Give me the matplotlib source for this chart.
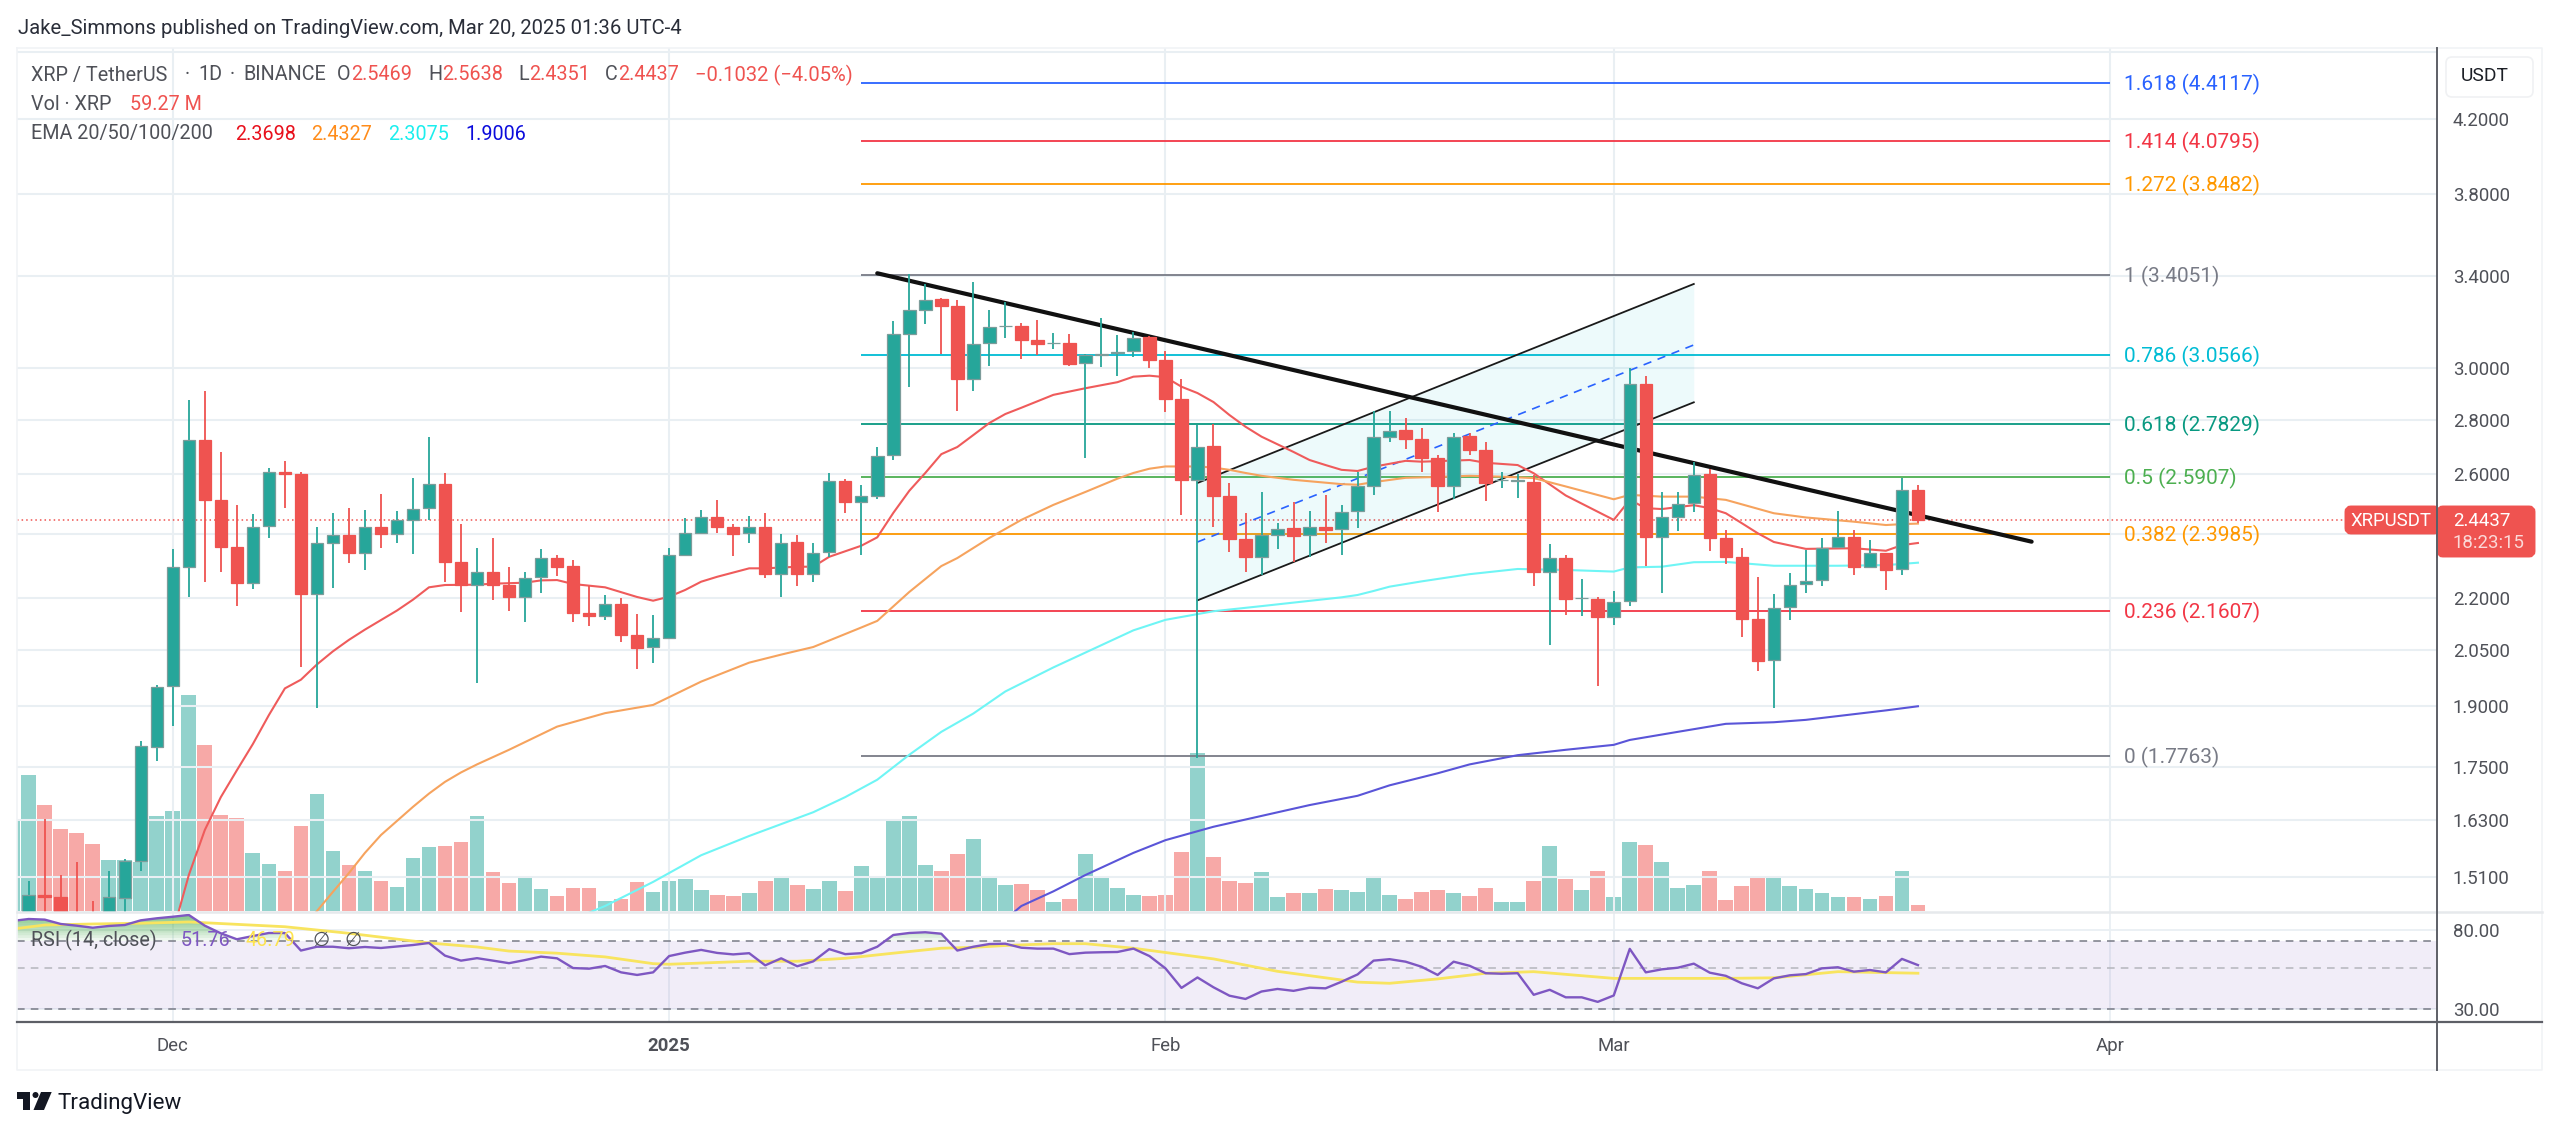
import numpy as np
import pandas as pd
import matplotlib
matplotlib.use("Agg")
import matplotlib.pyplot as plt
from matplotlib.patches import Polygon, Circle, FancyBboxPatch
from matplotlib.ticker import NullLocator

plt.rcParams['font.family'] = ['Roboto', 'DejaVu Sans']

# XRP/USDT daily bars, Nov 21 2024 .. Mar 20 2025
dates = pd.date_range("2024-11-21", periods=120)

opens = [1.36, 1.40, 1.473, 1.468, 1.40, 1.38, 1.36, 1.466, 1.541, 1.800,
         1.953, 2.295, 2.724, 2.510, 2.356, 2.245, 2.424, 2.610, 2.602, 2.212,
         2.369, 2.394, 2.339, 2.422, 2.400, 2.444, 2.483, 2.566, 2.309, 2.240,
         2.278, 2.239, 2.202, 2.263, 2.322, 2.296, 2.156, 2.147, 2.183, 2.094,
         2.058, 2.085, 2.331, 2.402, 2.455, 2.420, 2.401, 2.420, 2.272, 2.372,
         2.273, 2.341, 2.578, 2.506, 2.524, 2.668, 3.145, 3.245, 3.294, 3.264,
         2.959, 3.104, 3.177, 3.178, 3.118, 3.104, 3.107, 3.023, 3.057, 3.062,
         3.070, 3.131, 3.036, 2.878, 2.580, 2.700, 2.526, 2.381, 2.326, 2.397,
         2.417, 2.394, 2.422, 2.414, 2.474, 2.560, 2.736, 2.760, 2.729, 2.660,
         2.561, 2.738, 2.687, 2.580, 2.577, 2.575, 2.280, 2.321, 2.199, 2.198,
         2.145, 2.191, 2.939, 2.389, 2.456, 2.500, 2.601, 2.385, 2.325, 2.138,
         2.022, 2.172, 2.242, 2.254, 2.357, 2.390, 2.293, 2.339, 2.287, 2.5469]
highs = [1.40, 1.50, 1.631, 1.513, 1.539, 1.460, 1.521, 1.546, 1.814, 1.957,
         2.350, 2.875, 2.910, 2.681, 2.494, 2.464, 2.621, 2.649, 2.609, 2.420,
         2.469, 2.484, 2.478, 2.532, 2.475, 2.587, 2.734, 2.605, 2.431, 2.354,
         2.385, 2.293, 2.278, 2.350, 2.332, 2.316, 2.237, 2.209, 2.199, 2.154,
         2.149, 2.355, 2.452, 2.478, 2.510, 2.431, 2.458, 2.469, 2.399, 2.396,
         2.369, 2.604, 2.583, 2.562, 2.698, 3.200, 3.408, 3.363, 3.300, 3.291,
         3.373, 3.247, 3.283, 3.189, 3.203, 3.146, 3.142, 3.060, 3.213, 3.138,
         3.152, 3.135, 3.072, 2.957, 2.778, 2.785, 2.570, 2.469, 2.540, 2.436,
         2.506, 2.475, 2.529, 2.494, 2.610, 2.832, 2.834, 2.807, 2.767, 2.669,
         2.749, 2.749, 2.715, 2.610, 2.603, 2.598, 2.367, 2.332, 2.258, 2.203,
         2.220, 3.001, 2.970, 2.538, 2.540, 2.645, 2.618, 2.412, 2.354, 2.262,
         2.212, 2.276, 2.348, 2.387, 2.475, 2.412, 2.380, 2.339, 2.589, 2.5638]
lows = [1.34, 1.38, 1.42, 1.38, 1.36, 1.34, 1.34, 1.43, 1.521, 1.764,
        1.850, 2.202, 2.249, 2.280, 2.177, 2.226, 2.385, 2.486, 2.003, 1.895,
        2.231, 2.307, 2.285, 2.355, 2.369, 2.336, 2.445, 2.249, 2.160, 1.961,
        2.193, 2.162, 2.130, 2.214, 2.265, 2.129, 2.117, 2.136, 2.073, 1.999,
        2.015, 2.085, 2.331, 2.400, 2.402, 2.328, 2.369, 2.260, 2.202, 2.235,
        2.248, 2.326, 2.469, 2.332, 2.514, 2.651, 2.925, 3.186, 3.060, 2.832,
        2.911, 3.012, 3.127, 3.039, 3.055, 3.079, 3.010, 2.657, 3.007, 2.970,
        3.048, 3.003, 2.829, 2.461, 1.773, 2.422, 2.341, 2.278, 2.270, 2.351,
        2.311, 2.326, 2.371, 2.332, 2.417, 2.529, 2.715, 2.690, 2.607, 2.470,
        2.514, 2.669, 2.509, 2.552, 2.520, 2.235, 2.065, 2.151, 2.146, 1.953,
        2.122, 2.175, 2.298, 2.214, 2.410, 2.472, 2.344, 2.304, 2.086, 1.994,
        1.895, 2.136, 2.214, 2.237, 2.354, 2.270, 2.290, 2.224, 2.268, 2.4351]
closes = [1.39, 1.473, 1.468, 1.40, 1.38, 1.36, 1.468, 1.541, 1.801, 1.951,
          2.293, 2.724, 2.510, 2.356, 2.245, 2.422, 2.609, 2.602, 2.212, 2.369,
          2.394, 2.337, 2.421, 2.399, 2.444, 2.482, 2.566, 2.309, 2.239, 2.278,
          2.239, 2.202, 2.261, 2.321, 2.295, 2.157, 2.146, 2.182, 2.094, 2.057,
          2.084, 2.331, 2.402, 2.455, 2.420, 2.399, 2.420, 2.271, 2.371, 2.272,
          2.339, 2.576, 2.505, 2.524, 2.665, 3.142, 3.246, 3.291, 3.264, 2.959,
          3.103, 3.172, 3.178, 3.118, 3.100, 3.106, 3.020, 3.055, 3.059, 3.068,
          3.125, 3.036, 2.878, 2.580, 2.698, 2.526, 2.381, 2.325, 2.397, 2.416,
          2.393, 2.421, 2.412, 2.472, 2.559, 2.736, 2.758, 2.727, 2.659, 2.560,
          2.736, 2.686, 2.569, 2.582, 2.579, 2.279, 2.321, 2.198, 2.201, 2.144,
          2.189, 2.939, 2.389, 2.454, 2.499, 2.598, 2.385, 2.325, 2.138, 2.020,
          2.170, 2.239, 2.252, 2.355, 2.390, 2.293, 2.337, 2.285, 2.544, 2.4437]
volumes = [836, 1259, 982, 762, 721, 616, 470, 472, 456, 883,
           924, 1997, 1537, 890, 863, 535, 433, 369, 785, 1087,
           555, 427, 372, 281, 223, 487, 592, 603, 643, 877,
           362, 257, 315, 203, 139, 217, 210, 91, 112, 264,
           173, 281, 295, 190, 152, 135, 166, 278, 322, 244,
           203, 281, 186, 414, 321, 840, 877, 426, 367, 531,
           670, 303, 238, 250, 191, 86, 111, 525, 303, 210,
           145, 139, 145, 543, 1466, 497, 275, 262, 358, 133,
           170, 170, 204, 191, 176, 327, 151, 111, 176, 191,
           170, 139, 210, 86, 80, 281, 602, 293, 191, 374,
           127, 642, 608, 451, 210, 244, 367, 105, 228, 315,
           309, 228, 204, 164, 127, 133, 111, 139, 374, 59.27]

ema20_idx = [10, 11, 12, 13, 14, 15, 16, 17, 18, 19, 20, 21, 22, 24, 25, 26, 27, 29, 30,
             32, 33, 34, 35, 37, 39, 40, 41, 42, 43, 44, 46, 47, 49, 50, 51, 53, 54, 55,
             56, 57, 58, 59, 60, 61, 62, 63, 65, 67, 69, 70, 71, 72, 73, 74, 75, 76, 77,
             78, 80, 81, 82, 83, 84, 85, 87, 88, 91, 92, 94, 95, 97, 100, 101, 102, 103,
             105, 106, 107, 108, 109, 110, 112, 115, 117, 118, 119]
ema20 = [1.40, 1.513, 1.608, 1.681, 1.743, 1.806, 1.878, 1.947, 1.970, 2.011, 2.047, 2.079,
         2.108, 2.163, 2.195, 2.232, 2.239, 2.240, 2.243, 2.246, 2.253, 2.254, 2.242, 2.232,
         2.203, 2.192, 2.204, 2.224, 2.249, 2.264, 2.290, 2.290, 2.295, 2.295, 2.326, 2.361,
         2.388, 2.468, 2.543, 2.605, 2.672, 2.698, 2.742, 2.787, 2.821, 2.845, 2.895, 2.921,
         2.945, 2.967, 2.971, 2.965, 2.927, 2.902, 2.867, 2.817, 2.773, 2.736, 2.680, 2.651,
         2.633, 2.616, 2.612, 2.627, 2.648, 2.645, 2.651, 2.641, 2.633, 2.604, 2.527, 2.445,
         2.512, 2.484, 2.481, 2.494, 2.484, 2.467, 2.434, 2.401, 2.373, 2.351, 2.353, 2.345,
         2.363, 2.3698]

ema50_idx = [18, 19, 20, 21, 22, 23, 25, 26, 27, 28, 29, 31, 34, 37, 40, 43, 46, 48, 50, 53,
             54, 56, 58, 59, 61, 63, 65, 67, 69, 70, 71, 72, 74, 75, 76, 77, 78, 80, 83, 84,
             85, 87, 89, 91, 93, 95, 97, 100, 101, 103, 105, 107, 110, 112, 115, 117, 118, 119]
ema50 = [1.403, 1.441, 1.479, 1.517, 1.559, 1.597, 1.659, 1.689, 1.716, 1.738, 1.757, 1.792,
         1.849, 1.883, 1.904, 1.965, 2.016, 2.038, 2.059, 2.114, 2.133, 2.218, 2.297, 2.322,
         2.386, 2.445, 2.495, 2.539, 2.585, 2.605, 2.620, 2.628, 2.628, 2.624, 2.616, 2.605,
         2.595, 2.581, 2.566, 2.564, 2.573, 2.588, 2.591, 2.595, 2.592, 2.587, 2.558, 2.514,
         2.529, 2.523, 2.523, 2.512, 2.467, 2.453, 2.439, 2.428, 2.431, 2.4327]

ema100_idx = [35, 36, 37, 40, 43, 46, 50, 52, 54, 56, 58, 60, 62, 65, 70, 72, 75, 78, 83, 84,
              85, 86, 88, 91, 94, 97, 100, 101, 103, 105, 107, 110, 114, 117, 119]
ema100 = [1.423, 1.438, 1.451, 1.499, 1.554, 1.595, 1.647, 1.681, 1.721, 1.780, 1.836, 1.882,
          1.939, 2.003, 2.106, 2.136, 2.161, 2.176, 2.202, 2.209, 2.221, 2.234, 2.250, 2.272,
          2.288, 2.285, 2.280, 2.293, 2.295, 2.309, 2.310, 2.298, 2.298, 2.300, 2.3075]

ema200_idx = [62, 63, 65, 67, 70, 72, 75, 81, 84, 86, 89, 91, 94, 97, 100, 101, 104, 107, 110,
              112, 117, 119]
ema200 = [1.425, 1.451, 1.480, 1.513, 1.559, 1.586, 1.615, 1.663, 1.684, 1.708, 1.736, 1.757,
          1.779, 1.792, 1.804, 1.816, 1.836, 1.856, 1.860, 1.866, 1.890, 1.9006]

rsi = [89.5, 91.7, 91.0, 86.2, 84.4, 82.3, 84.1, 85.1, 90.2, 92.5,
       94.3, 96.4, 84.4, 76.8, 71.3, 74.2, 77.1, 77.1, 62.0, 65.0,
       65.0, 63.8, 64.8, 64.0, 65.2, 66.4, 68.1, 58.2, 54.7, 56.4,
       54.7, 53.0, 55.1, 57.5, 56.3, 49.9, 49.5, 51.2, 47.3, 45.8,
       47.3, 57.9, 60.4, 62.5, 60.2, 59.1, 60.0, 51.6, 56.3, 51.0,
       54.2, 63.1, 59.3, 60.0, 65.0, 75.2, 77.1, 77.8, 76.4, 62.0,
       65.0, 67.2, 67.5, 64.2, 63.5, 63.5, 59.3, 60.4, 60.7, 60.9,
       63.5, 57.9, 49.7, 39.0, 44.4, 39.3, 35.4, 34.0, 37.3, 38.5,
       37.6, 39.1, 38.8, 42.1, 46.1, 54.7, 55.7, 54.0, 50.7, 45.8,
       54.0, 51.3, 46.8, 46.5, 46.8, 35.8, 38.1, 34.7, 34.7, 32.8,
       35.5, 63.3, 47.3, 49.1, 50.1, 52.7, 47.1, 45.3, 41.3, 38.8,
       43.9, 45.6, 46.3, 49.7, 50.4, 47.7, 48.7, 47.3, 55.9, 51.76]
rsi_ma_idx = [0, 2, 5, 8, 11, 17, 21, 26, 29, 31, 34, 37, 40, 41, 46, 49, 52, 55, 58, 60, 62,
              65, 67, 70, 75, 79, 84, 86, 89, 92, 95, 100, 107, 110, 114, 119]
rsi_ma = [81.0, 85.1, 86.2, 87.0, 88.4, 83.3, 76.8, 68.1, 64.8, 61.6, 60.0, 57.3, 52.7, 52.3,
          54.3, 54.3, 56.3, 60.0, 63.8, 64.5, 66.0, 67.5, 67.5, 63.8, 55.9, 47.9, 41.9, 41.3,
          43.6, 46.8, 47.7, 43.9, 43.9, 44.2, 47.7, 46.79]

fib_ratios = ["1.618", "1.414", "1.272", "1", "0.786", "0.618", "0.5", "0.382", "0.236", "0"]
fib_prices = [4.4117, 4.0795, 3.8482, 3.4051, 3.0566, 2.7829, 2.5907, 2.3985, 2.1607, 1.7763]
fib_colors = ["#2962ff", "#f23645", "#ff9800", "#787b86", "#00bcd4",
              "#089981", "#4caf50", "#ff9800", "#f23645", "#787b86"]

price_ticks = [4.6, 4.2, 3.8, 3.4, 3.0, 2.8, 2.6, 2.4, 2.2, 2.05, 1.9, 1.75, 1.63, 1.51]
price_tick_labels = ["", "4.2000", "3.8000", "3.4000", "3.0000", "2.8000", "2.6000", "",
                     "2.2000", "2.0500", "1.9000", "1.7500", "1.6300", "1.5100"]
month_dates = ["2024-12-01", "2025-01-01", "2025-02-01", "2025-03-01", "2025-04-01"]
month_labels = ["Dec", "2025", "Feb", "Mar", "Apr"]

GREEN = "#26a69a"
RED = "#ef5350"
GRID = "#e9eff3"
W, H = 2560, 1133


def px_axes(fig, x0, y0, x1, y1):
    return fig.add_axes([x0 / W, 1 - y1 / H, (x1 - x0) / W, (y1 - y0) / H])


fig = plt.figure(figsize=(W / 100, H / 100), dpi=100, facecolor="white")
ax = px_axes(fig, 17, 48, 2437, 912)
ax_vol = ax.twinx()
ax_rsi = px_axes(fig, 17, 912, 2437, 1022)

x = np.arange(len(dates))
month_idx = [(pd.Timestamp(d) - dates[0]).days for d in month_dates]
xlim = (0.2686, 151.42)

opens, highs, lows, closes = map(np.array, (opens, highs, lows, closes))
up = closes >= opens
colors = np.where(up, GREEN, RED)

# price pane
ax.set_yscale("log")
ax.set_xlim(xlim)
ax.set_ylim(4.2 * np.exp(-792.5 / 740), 4.2 * np.exp(71.5 / 740))
ax.set_yticks(price_ticks)
ax.set_yticklabels(price_tick_labels, color="#4f5158", fontsize=13.4)
ax.yaxis.set_minor_locator(NullLocator())
ax.yaxis.tick_right()
ax.tick_params(axis="y", which="both", length=0, pad=11.5)
ax.set_xticks(month_idx)
ax.set_xticklabels([])
ax.tick_params(axis="x", length=0)
ax.grid(True, color=GRID, lw=1.5)
ax.set_axisbelow(True)
for s in ax.spines.values():
    s.set_visible(False)
ax.set_zorder(2)
ax.patch.set_visible(False)

# volume sits behind the candles on its own scale
ax_vol.set_ylim(-9.26, 7991)
ax_vol.set_yticks([])
ax_vol.set_zorder(1)
for s in ax_vol.spines.values():
    s.set_visible(False)
vol_colors = np.where(up, "#92d2cc", "#f7a9a7")
ax_vol.bar(x, volumes, width=0.92, color=vol_colors)

ax.axhline(2.4437, color=RED, lw=1.1, ls=(0, (1, 2)), zorder=2)

# fib retracement
for ratio, price, col in zip(fib_ratios, fib_prices, fib_colors):
    ax.hlines(price, 53, 131, color=col, lw=1.3, zorder=3)
    ax.annotate(f"{ratio} ({price:.4f})", (131.9, price), xytext=(0, -1), textcoords="offset points",
                color=col, fontsize=15.0, va="center", zorder=3)

# parallel channel
chan_x = [74, 105]
chan_top = [2.570, 3.363]
chan_mid = [2.373, 3.097]
chan_low = [2.193, 2.866]
ax.fill_between(chan_x, chan_low, chan_top, color="#00bcd4", alpha=0.07, lw=0, zorder=3)
ax.plot(chan_x, chan_top, color="#1a1a1a", lw=1.3, zorder=3)
ax.plot(chan_x, chan_low, color="#1a1a1a", lw=1.3, zorder=3)
ax.plot(chan_x, chan_mid, color="#2962ff", lw=1.2, ls=(0, (5, 4)), zorder=3)

# descending trendline
ax.plot([54, 126.1], [3.412, 2.374], color="#111111", lw=3.0, solid_capstyle="round", zorder=3.5)

ax.plot(ema20_idx, ema20, color="#ef5b5b", lw=1.5, zorder=4)
ax.plot(ema50_idx, ema50, color="#f6a35e", lw=1.5, zorder=4)
ax.plot(ema100_idx, ema100, color="#6ff5f5", lw=1.5, zorder=4)
ax.plot(ema200_idx, ema200, color="#5a55d8", lw=1.5, zorder=4)

# candles
ax.vlines(x, lows, highs, color=colors, lw=1.3, zorder=5)
body_low = np.minimum(opens, closes)
body_h = np.abs(closes - opens)
edge = np.where(up, "#7c9c9a", RED)
ax.bar(x, body_h, bottom=body_low, width=0.78, color=colors, edgecolor=edge, linewidth=0.9, zorder=6)

# rsi pane
ax_rsi.set_yscale("log")
ax_rsi.set_xlim(xlim)
ax_rsi.set_ylim(80 * np.exp(-92 / 80.6), 80 * np.exp(18 / 80.6))
ax_rsi.set_yticks([80, 30])
ax_rsi.set_yticklabels(["80.00", "30.00"], color="#4f5158", fontsize=13.4)
ax_rsi.yaxis.set_minor_locator(NullLocator())
ax_rsi.yaxis.tick_right()
ax_rsi.tick_params(axis="y", which="both", length=0, pad=11.5)
ax_rsi.set_xticks(month_idx)
ax_rsi.set_xticklabels(month_labels, fontsize=13.4, color="#4f5158")
ax_rsi.get_xticklabels()[1].set_fontweight("bold")
ax_rsi.tick_params(axis="x", length=0, pad=11)
ax_rsi.grid(True, color=GRID, lw=1.3)
ax_rsi.set_axisbelow(True)
for s in ax_rsi.spines.values():
    s.set_visible(False)
ax_rsi.axhspan(30, 70, color="#7e57c2", alpha=0.1, lw=0)
ax_rsi.axhline(70, color="#787b86", lw=1.1, ls=(0, (5, 4)))
ax_rsi.axhline(50, color="#b4b5bc", lw=1.1, ls=(0, (5, 4)))
ax_rsi.axhline(30, color="#787b86", lw=1.1, ls=(0, (5, 4)))
rsi_arr = np.array(rsi)
for level in np.arange(70, 97, 2.5):
    ax_rsi.fill_between(x, level, rsi_arr, where=rsi_arr > level, interpolate=True,
                        color="#4caf50", alpha=0.09, lw=0)
ax_rsi.plot(rsi_ma_idx, rsi_ma, color="#f8e45f", lw=2.0)
ax_rsi.plot(x, rsi, color="#7e57c2", lw=1.7)

# overlay in image pixels for frame, header, labels
top = fig.add_axes([0, 0, 1, 1], zorder=10)
top.set_xlim(0, W)
top.set_ylim(H, 0)
top.axis("off")
top.patch.set_visible(False)

top.plot([17, 2542, 2542, 17, 17], [48, 48, 1070, 1070, 48], color="#f1f3f6", lw=1.2)
top.plot([17, 2542], [912, 912], color="#e6e9ec", lw=1.8)
top.plot([17, 2542], [1022, 1022], color="#5d5f66", lw=1.6)
top.plot([2437, 2437], [48, 1070], color="#5d5f66", lw=1.4)


def label(px, py, s, color="#4f5158", size=14.2, **kw):
    kw.setdefault("va", "center")
    return top.text(px, py, s, color=color, fontsize=size, **kw)


label(18, 28, "Jake_Simmons published on TradingView.com, Mar 20, 2025 01:36 UTC-4", color="#2a2e39", size=14.6)
title_parts = ["XRP / TetherUS", "·", "1D", "·", "BINANCE"]
title_x = [31, 185, 198, 230, 243]
for part, px in zip(title_parts, title_x):
    label(px, 75, part)
ohlc_labels = ["O", "H", "L", "C"]
ohlc_text = ["2.5469", "2.5638", "2.4351", "2.4437"]
ohlc_x = [337, 428, 518, 605]
ohlc_val_x = [351, 442, 529, 618]
for lab, val, lx, vx in zip(ohlc_labels, ohlc_text, ohlc_x, ohlc_val_x):
    label(lx, 75, lab)
    label(vx, 75, val, color=RED)
label(695, 75, "−0.1032 (−4.05%)", color=RED, size=14.5)
label(31, 104, "Vol · XRP")
label(130, 104, "59.27 M", color=RED)
label(31, 134, "EMA 20/50/100/200")
ema_text = ["2.3698", "2.4327", "2.3075", "1.9006"]
ema_text_colors = ["#e8101c", "#ff8c1a", "#1ceeee", "#0c0cdc"]
ema_text_x = [235, 311, 388, 465]
for val, col, vx in zip(ema_text, ema_text_colors, ema_text_x):
    label(vx, 134, val, color=col)

label(31, 940, "RSI (14, close)")
label(181, 940, "51.76", color="#7e57c2")
label(245, 940, "46.79", color="#fde34f")
label(312, 940, "∅")
label(345, 940, "∅")

# price label on the axis
top.add_patch(FancyBboxPatch((2348, 509), 89, 22, boxstyle="round,pad=0,rounding_size=3",
                             mutation_aspect=1, fc=RED, ec=RED, lw=5))
top.add_patch(FancyBboxPatch((2440, 509), 92, 45, boxstyle="round,pad=0,rounding_size=3",
                             fc=RED, ec=RED, lw=5))
top.plot([2437, 2437], [506, 557], color="#5d5f66", lw=1.4)
label(2391, 520.5, "XRPUSDT", color="white", ha="center", size=13.4)
label(2453, 520.5, "2.4437", color="white", size=13.4)
label(2453, 543, "18:23:15", color="#fbd9d8", size=13.4)

top.add_patch(FancyBboxPatch((2446, 57), 87, 40, boxstyle="round,pad=0,rounding_size=6",
                             fc="white", ec="#f0f1f3", lw=1.2))
label(2485, 76, "USDT", color="#1c1f26", ha="center", size=13.8)

# logo
top.add_patch(Polygon([(17.3, 1092), (30, 1092), (30, 1110), (23, 1110), (23, 1098.5), (17.3, 1098.5)],
                      fc="#131722", ec="none"))
top.add_patch(Circle((35.5, 1095), 3, fc="#131722", ec="none"))
top.add_patch(Polygon([(41, 1092), (51.7, 1092), (44, 1110), (33.5, 1110)], fc="#131722", ec="none"))
label(58, 1103, "TradingView", color="#131722", size=16.1)

fig.savefig("out.png", dpi=100)
